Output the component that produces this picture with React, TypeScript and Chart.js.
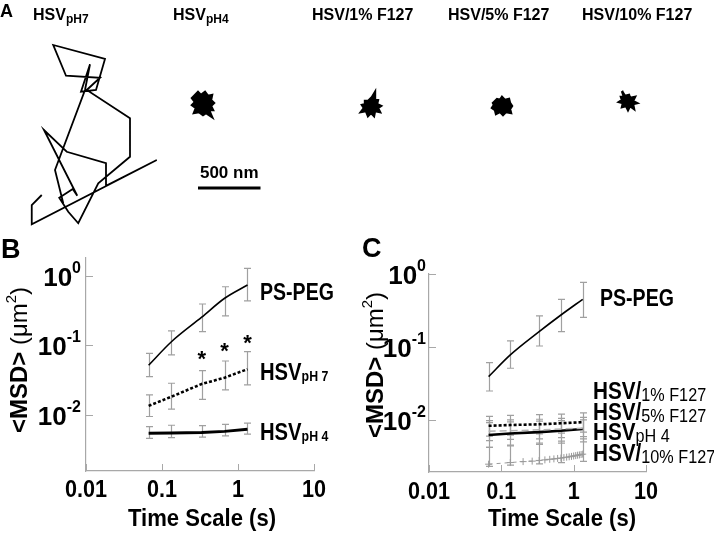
import React, { useEffect, useRef } from 'react';
import { Chart, registerables } from 'chart.js';
Chart.register(...registerables);

// ---------------- DATA ----------------
// Panel A: trajectories, coordinates in nm
const PH7_X = [334, 254, 254, 1254, 848, 848, 534, 352, 618, 582, 474, 546, 626, 786, 1040, 1040, 694, 800, 528, 426, 840, 768, 648, 720, 680, 440, 506];
const PH7_Y = [1560, 1640, 1794, 1280, 1486, 1306, 1214, 1040, 1566, 1512, 1582, 1694, 1786, 1466, 1254, 946, 720, 622, 606, 360, 472, 720, 734, 514, 720, 1360, 1626];
const PH4_X = [1552, 1584, 1608, 1640, 1664, 1696, 1688, 1712, 1688, 1704, 1672, 1696, 1648, 1624, 1592, 1552, 1568, 1536, 1560, 1536, 1552];
const PH4_Y = [768, 736, 760, 736, 768, 760, 800, 824, 848, 880, 880, 936, 904, 920, 896, 904, 864, 840, 816, 784, 768];
const F1_X = [2944, 2976, 3000, 3000, 3024, 3016, 3048, 3024, 3040, 3000, 2992, 2968, 2944, 2928, 2888, 2912, 2896, 2928, 2920, 2944];
const F1_Y = [808, 776, 736, 792, 800, 832, 848, 864, 896, 888, 928, 904, 928, 888, 896, 864, 840, 832, 808, 808];
const F5_X = [3952, 3976, 4000, 4016, 4040, 4072, 4080, 4096, 4080, 4088, 4048, 4024, 4000, 3968, 3960, 3936, 3952, 3944, 3952];
const F5_Y = [816, 792, 800, 776, 800, 792, 824, 848, 872, 904, 896, 920, 896, 912, 880, 864, 840, 824, 816];
const F10_X = [4976, 5000, 5032, 5040, 5080, 5064, 5096, 5064, 5072, 5040, 5024, 5008, 4976, 4984, 4952, 4976, 4968, 4992, 4976];
const F10_Y = [728, 768, 760, 784, 776, 808, 824, 832, 872, 848, 880, 848, 856, 824, 816, 800, 776, 776, 728];
const SCALE_BAR_NM = 500;
const SCALE_BAR_START = [1584, 1504];
const A_TITLES = [
  { main: 'HSV', sub: 'pH7' },
  { main: 'HSV', sub: 'pH4' },
  { main: 'HSV/1% F127', sub: '' },
  { main: 'HSV/5% F127', sub: '' },
  { main: 'HSV/10% F127', sub: '' },
];

// Panels B and C: MSD vs time scale
const LAG_TIMES = [0.0667, 0.133, 0.333, 0.667, 1.333];
const LAG_TIMES_ALL = [0.0667, 0.133, 0.2, 0.267, 0.333, 0.4, 0.467, 0.533, 0.6, 0.667, 0.733, 0.8, 0.867, 0.933, 1.0, 1.067, 1.133, 1.2, 1.267, 1.333];
const X_TICKS = [0.01, 0.1, 1, 10];
const X_TICK_LABELS = ['0.01', '0.1', '1', '10'];
const Y_TICKS = [0.01, 0.1, 1];
const Y_TICK_EXP = ['-2', '-1', '0'];

const B_PSPEG = [0.052, 0.113, 0.255, 0.478, 0.743];
const B_PSPEG_HI = [0.077, 0.162, 0.395, 0.70, 1.29];
const B_PSPEG_LO = [0.0356, 0.073, 0.158, 0.266, 0.437];
const B_PH7 = [0.0135, 0.0183, 0.0279, 0.0344, 0.0455];
const B_PH7_HI = [0.0194, 0.0286, 0.0434, 0.0598, 0.0814];
const B_PH7_LO = [0.0095, 0.0121, 0.0168, 0.0229, 0.027];
const B_PH4 = [0.00545, 0.0055, 0.0056, 0.0058, 0.0062];
const B_PH4_HI = [0.0068, 0.0071, 0.0070, 0.0073, 0.0076];
const B_PH4_LO = [0.0046, 0.0047, 0.0048, 0.0050, 0.0053];
const B_STAR_T = [0.333, 0.667, 1.333];
const B_STAR_Y = [0.077, 0.102, 0.134];

const C_PSPEG = [0.0392, 0.0777, 0.162, 0.274, 0.450];
const C_PSPEG_HI = [0.061, 0.121, 0.266, 0.45, 0.769];
const C_PSPEG_LO = [0.0249, 0.051, 0.103, 0.162, 0.255];
const C_F5 = [0.0083, 0.0085, 0.0087, 0.009, 0.0093];
const C_F5_HI = [0.0112, 0.0115, 0.0118, 0.012, 0.0125];
const C_F5_LO = [0.0060, 0.0062, 0.0064, 0.0066, 0.0068];
const C_PH4 = [0.0062, 0.0065, 0.0068, 0.0071, 0.0075];
const C_PH4_HI = [0.0098, 0.0100, 0.0102, 0.0105, 0.0108];
const C_PH4_LO = [0.0042, 0.0044, 0.0046, 0.0048, 0.0050];
const C_F1 = [0.0070, 0.0071, 0.0073, 0.0075, 0.0077];
const C_F1_HI = [0.0092, 0.0094, 0.0096, 0.0098, 0.0100];
const C_F1_LO = [0.0052, 0.0054, 0.0055, 0.0057, 0.0059];
const C_F10 = [0.00247, 0.0026, 0.00268, 0.00272, 0.00278, 0.00283, 0.00288, 0.00292, 0.00296, 0.003, 0.00304, 0.00308, 0.00312, 0.00316, 0.0032, 0.00324, 0.00328, 0.00331, 0.00335, 0.00339];
const C_F10_HI = [0.0042, 0.0045, 0.0048, 0.0051, 0.0055];
const C_F10_LO = [0.0023, 0.0024, 0.0025, 0.0026, 0.0027];

// ---------------- HELPERS ----------------
const FF = '"Liberation Sans", Arial, Helvetica, sans-serif';
const AXIS_COLOR = '#a8a8a8';
const ERR_COLOR = '#a0a0a0';

type Part = { t: string; font: string; dy?: number };
function drawRich(ctx: CanvasRenderingContext2D, x: number, y: number, parts: Part[], align: 'left' | 'center' | 'right', sx = 1) {
  ctx.save();
  ctx.textBaseline = 'alphabetic';
  ctx.textAlign = 'left';
  let w = 0;
  for (const p of parts) { ctx.font = p.font; w += ctx.measureText(p.t).width; }
  const start = align === 'left' ? x : align === 'center' ? x - (w * sx) / 2 : x - w * sx;
  ctx.translate(start, y);
  ctx.scale(sx, 1);
  let cx = 0;
  for (const p of parts) {
    ctx.font = p.font;
    ctx.fillText(p.t, cx, p.dy || 0);
    cx += ctx.measureText(p.t).width;
  }
  ctx.restore();
}
const bold = (s: number) => `bold ${s}px ${FF}`;
const reg = (s: number) => `${s}px ${FF}`;

const pts = (xs: number[], ys: number[]) => xs.map((x, i) => ({ x, y: ys[i] }));

function textPlugin(items: { x: number; y: number; parts: Part[]; align?: 'left' | 'center' | 'right'; sx?: number }[]) {
  return {
    id: 'texts',
    afterDraw(chart: any) {
      const ctx = chart.ctx as CanvasRenderingContext2D;
      ctx.save();
      ctx.fillStyle = '#000';
      items.forEach((it) => drawRich(ctx, it.x, it.y, it.parts, it.align || 'left', it.sx || 1));
      ctx.restore();
    },
  };
}

const errorBarPlugin = {
  id: 'errbars',
  beforeDatasetsDraw(chart: any) {
    const ctx = chart.ctx as CanvasRenderingContext2D;
    const xs = chart.scales.x;
    const ys = chart.scales.y;
    chart.data.datasets.forEach((ds: any) => {
      if (!ds.err) return;
      ctx.save();
      ctx.strokeStyle = ERR_COLOR;
      ctx.lineWidth = 1.2;
      ds.err.x.forEach((t: number, i: number) => {
        const x = Math.round(xs.getPixelForValue(t)) + 0.5;
        const y1 = ys.getPixelForValue(ds.err.hi[i]);
        const y2 = ys.getPixelForValue(ds.err.lo[i]);
        ctx.beginPath();
        ctx.moveTo(x, y1); ctx.lineTo(x, y2);
        ctx.moveTo(x - 3.5, y1); ctx.lineTo(x + 3.5, y1);
        ctx.moveTo(x - 3.5, y2); ctx.lineTo(x + 3.5, y2);
        ctx.stroke();
      });
      ctx.restore();
    });
  },
};

const starPlugin = {
  id: 'stars',
  afterDatasetsDraw(chart: any) {
    const ctx = chart.ctx as CanvasRenderingContext2D;
    chart.data.datasets.forEach((ds: any, di: number) => {
      if (!ds.isStar) return;
      const meta = chart.getDatasetMeta(di);
      ctx.save();
      ctx.fillStyle = '#000';
      ctx.font = bold(22);
      ctx.textAlign = 'center';
      ctx.textBaseline = 'alphabetic';
      meta.data.forEach((el: any) => ctx.fillText('*', el.x, el.y + 13));
      ctx.restore();
    });
  },
};

function axesPlugin(o: { yGap: number; xLabDy: number; xTitle: [number, number]; yTitle: [number, number] }) {
  return {
    id: 'axdeco',
    afterDraw(chart: any) {
      const ctx = chart.ctx as CanvasRenderingContext2D;
      const xs = chart.scales.x;
      const ys = chart.scales.y;
      const a = chart.chartArea;
      ctx.save();
      ctx.strokeStyle = AXIS_COLOR;
      ctx.lineWidth = 1;
      X_TICKS.forEach((v) => {
        const px = Math.round(xs.getPixelForValue(v)) + 0.5;
        ctx.beginPath(); ctx.moveTo(px, a.bottom); ctx.lineTo(px, a.bottom - 7); ctx.stroke();
      });
      Y_TICKS.forEach((v) => {
        const py = Math.round(ys.getPixelForValue(v)) + 0.5;
        ctx.beginPath(); ctx.moveTo(a.left, py); ctx.lineTo(a.left + 7, py); ctx.stroke();
      });
      ctx.fillStyle = '#000';
      X_TICKS.forEach((v, i) =>
        drawRich(ctx, xs.getPixelForValue(v), a.bottom + o.xLabDy, [{ t: X_TICK_LABELS[i], font: bold(24) }], 'center', 0.9));
      Y_TICKS.forEach((v, i) =>
        drawRich(ctx, a.left - o.yGap, ys.getPixelForValue(v) + 10,
          [{ t: '10', font: bold(26) }, { t: Y_TICK_EXP[i], font: bold(16), dy: -13 }], 'right', 1));
      drawRich(ctx, o.xTitle[0], o.xTitle[1], [{ t: 'Time Scale (s)', font: bold(24) }], 'center', 0.92);
      ctx.translate(o.yTitle[0], o.yTitle[1]);
      ctx.rotate(-Math.PI / 2);
      drawRich(ctx, 0, 0, [
        { t: '<MSD> ', font: bold(24) },
        { t: '(\u03bcm', font: reg(24) },
        { t: '2', font: reg(15), dy: -11 },
        { t: ')', font: reg(24) },
      ], 'center', 1);
      ctx.restore();
    },
  };
}

function logScales(yMin: number, yMax: number, yWidth: number, xHeight: number) {
  const common = {
    type: 'logarithmic' as const,
    display: true,
    grid: { display: false },
    border: { display: true, color: AXIS_COLOR, width: 1.2 },
    ticks: { display: false },
  };
  return {
    x: {
      ...common, position: 'bottom', min: 0.01, max: 10,
      afterBuildTicks: (s: any) => { s.ticks = X_TICKS.map((v) => ({ value: v })); },
      afterFit: (s: any) => { s.height = xHeight; },
    },
    y: {
      ...common, position: 'left', min: yMin, max: yMax,
      afterBuildTicks: (s: any) => { s.ticks = Y_TICKS.map((v) => ({ value: v })); },
      afterFit: (s: any) => { s.width = yWidth; },
    },
  };
}

const baseOpts = {
  responsive: false,
  animation: false as const,
  devicePixelRatio: 1,
  events: [] as any[],
  plugins: { legend: { display: false }, tooltip: { enabled: false } },
};

function lineDs(xs: number[], ys: number[], extra: any) {
  return { data: pts(xs, ys), showLine: true, pointRadius: 0, borderColor: '#000', backgroundColor: '#000', borderWidth: 1.5, ...extra };
}

function makeA(canvas: HTMLCanvasElement) {
  const blob = (xs: number[], ys: number[]) => ({
    data: pts(xs, ys), showLine: true, pointRadius: 0, borderColor: '#000', backgroundColor: '#000',
    borderWidth: 2.4, fill: 'shape', borderJoinStyle: 'miter',
  });
  const titleX = [33, 173, 312, 448, 582];
  const texts = [
    { x: 0, y: 17, parts: [{ t: 'A', font: bold(18) }] },
    ...A_TITLES.map((t, i) => ({
      x: titleX[i], y: 20,
      parts: [{ t: t.main, font: bold(16) }, ...(t.sub ? [{ t: t.sub, font: bold(12), dy: 3 }] : [])],
    })),
  ];
  const scaleBarLabel = {
    id: 'sbl',
    afterDraw(chart: any) {
      const xs = chart.scales.x; const ys = chart.scales.y;
      const cx = xs.getPixelForValue(SCALE_BAR_START[0] + SCALE_BAR_NM / 2);
      const cy = ys.getPixelForValue(SCALE_BAR_START[1]);
      const ctx = chart.ctx; ctx.save(); ctx.fillStyle = '#000';
      drawRich(ctx, cx, cy - 10, [{ t: `${SCALE_BAR_NM} nm`, font: bold(17) }], 'center', 1);
      ctx.restore();
    },
  };
  return new Chart(canvas, {
    type: 'scatter',
    data: {
      datasets: [
        { data: pts(PH7_X, PH7_Y), showLine: true, pointRadius: 0, borderColor: '#000', borderWidth: 1.8, borderJoinStyle: 'miter' } as any,
        blob(PH4_X, PH4_Y), blob(F1_X, F1_Y), blob(F5_X, F5_Y), blob(F10_X, F10_Y),
        { data: [{ x: SCALE_BAR_START[0], y: SCALE_BAR_START[1] }, { x: SCALE_BAR_START[0] + SCALE_BAR_NM, y: SCALE_BAR_START[1] }],
          showLine: true, pointRadius: 0, borderColor: '#000', borderWidth: 3, borderCapStyle: 'butt' },
      ],
    },
    options: {
      ...baseOpts,
      layout: { padding: 0 },
      scales: {
        x: { type: 'linear', display: false, min: 0, max: 5712 },
        y: { type: 'linear', display: false, min: 0, max: 1840, reverse: true },
      },
    } as any,
    plugins: [textPlugin(texts), scaleBarLabel],
  });
}

function makeB(canvas: HTMLCanvasElement) {
  const texts = [
    { x: 1, y: 28, parts: [{ t: 'B', font: bold(27) }] },
    { x: 260, y: 70, parts: [{ t: 'PS-PEG', font: bold(23) }], sx: 0.85 },
    { x: 260, y: 150, parts: [{ t: 'HSV', font: bold(23) }, { t: 'pH 7', font: bold(14), dy: 1 }], sx: 0.88 },
    { x: 260, y: 210, parts: [{ t: 'HSV', font: bold(23) }, { t: 'pH 4', font: bold(14), dy: 1 }], sx: 0.88 },
  ];
  return new Chart(canvas, {
    type: 'scatter',
    data: {
      datasets: [
        lineDs(LAG_TIMES, B_PSPEG, { borderWidth: 1.6, cubicInterpolationMode: 'monotone', err: { x: LAG_TIMES, hi: B_PSPEG_HI, lo: B_PSPEG_LO } }),
        lineDs(LAG_TIMES, B_PH7, { borderWidth: 2.6, borderDash: [3, 2], err: { x: LAG_TIMES, hi: B_PH7_HI, lo: B_PH7_LO } }),
        lineDs(LAG_TIMES, B_PH4, { borderWidth: 3, err: { x: LAG_TIMES, hi: B_PH4_HI, lo: B_PH4_LO } }),
        { data: pts(B_STAR_T, B_STAR_Y), showLine: false, pointRadius: 0, isStar: true },
      ] as any,
    },
    options: {
      ...baseOpts,
      layout: { padding: { top: 28, right: 46, left: 0, bottom: 0 } },
      scales: logScales(0.00156, 1.815, 86, 62),
    } as any,
    plugins: [errorBarPlugin, starPlugin, axesPlugin({ yGap: 5, xLabDy: 26, xTitle: [202, 296], yTitle: [27, 130] }), textPlugin(texts)],
  });
}

function makeC(canvas: HTMLCanvasElement) {
  const hsv = (sub: string, y: number) => ({
    x: 233, y, sx: 0.9,
    parts: [{ t: 'HSV/', font: bold(23) }, { t: sub, font: reg(18), dy: 2 }],
  });
  const texts = [
    { x: 2, y: 27, parts: [{ t: 'C', font: bold(27) }] },
    { x: 240, y: 76, parts: [{ t: 'PS-PEG', font: bold(23) }], sx: 0.85 },
    hsv('1% F127', 169),
    hsv('5% F127', 190),
    { x: 233, y: 210, sx: 0.9, parts: [{ t: 'HSV', font: bold(23) }, { t: 'pH 4', font: reg(18), dy: 2 }] },
    hsv('10% F127', 231),
  ];
  return new Chart(canvas, {
    type: 'scatter',
    data: {
      datasets: [
        lineDs(LAG_TIMES, C_PSPEG, { borderWidth: 1.6, cubicInterpolationMode: 'monotone', err: { x: LAG_TIMES, hi: C_PSPEG_HI, lo: C_PSPEG_LO } }),
        lineDs(LAG_TIMES_ALL, C_F10, {
          borderColor: '#9a9a9a', borderWidth: 1, borderDash: [4, 4], pointRadius: 3.5, pointStyle: 'cross',
          pointBorderColor: '#9a9a9a', pointBorderWidth: 1, err: { x: LAG_TIMES, hi: C_F10_HI, lo: C_F10_LO },
        }),
        lineDs(LAG_TIMES, C_F1, { borderColor: '#b4b4b4', borderWidth: 1.5, borderDash: [7, 4], err: { x: LAG_TIMES, hi: C_F1_HI, lo: C_F1_LO } }),
        lineDs(LAG_TIMES, C_PH4, { borderWidth: 2.6, err: { x: LAG_TIMES, hi: C_PH4_HI, lo: C_PH4_LO } }),
        lineDs(LAG_TIMES, C_F5, { borderWidth: 2.6, borderDash: [3, 2], err: { x: LAG_TIMES, hi: C_F5_HI, lo: C_F5_LO } }),
      ] as any,
    },
    options: {
      ...baseOpts,
      layout: { padding: { top: 44, right: 68, left: 0, bottom: 0 } },
      scales: logScales(0.00193, 1, 69, 61),
    } as any,
    plugins: [errorBarPlugin, axesPlugin({ yGap: 3, xLabDy: 27, xTitle: [202, 296], yTitle: [23, 135] }), textPlugin(texts)],
  });
}

export default function App() {
  const refA = useRef<HTMLCanvasElement>(null);
  const refB = useRef<HTMLCanvasElement>(null);
  const refC = useRef<HTMLCanvasElement>(null);
  useEffect(() => {
    const charts = [makeA(refA.current!), makeB(refB.current!), makeC(refC.current!)];
    return () => charts.forEach((c) => c.destroy());
  }, []);
  return (
    <div style={{ position: 'fixed', left: 0, top: 0, width: 714, height: 533, background: '#fff', overflow: 'hidden' }}>
      <canvas ref={refA} width={714} height={230} style={{ position: 'absolute', left: 0, top: 0 }} />
      <canvas ref={refB} width={360} height={303} style={{ position: 'absolute', left: 0, top: 230 }} />
      <canvas ref={refC} width={354} height={303} style={{ position: 'absolute', left: 360, top: 230 }} />
    </div>
  );
}
